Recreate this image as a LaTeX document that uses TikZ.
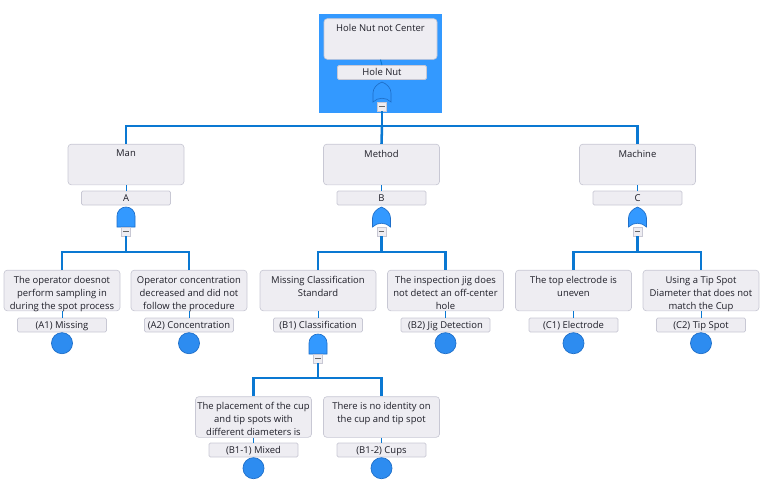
\documentclass[tikz,border=0pt]{standalone}
\usepackage{fontspec}
\setmainfont{Open Sans}
\definecolor{boxfill}{RGB}{238,237,242}
\definecolor{boxline}{RGB}{200,200,212}
\definecolor{conncol}{RGB}{10,120,210}
\definecolor{gatefill}{RGB}{51,153,255}
\definecolor{gateline}{RGB}{30,110,200}
\definecolor{circfill}{RGB}{45,140,240}
\definecolor{txt}{RGB}{30,30,40}
\begin{document}
\begin{tikzpicture}[x=0.75pt,y=-0.75pt,
  every node/.style={font=\fontsize{7.1}{9.75}\selectfont, text=txt},
  evbox/.style={draw=boxline, fill=boxfill, rounded corners=2.5pt, minimum width=87pt, minimum height=30.5pt, inner sep=0pt, line width=0.5pt},
  evlbl/.style={draw=boxline, fill=boxfill, rounded corners=1pt, minimum width=66.75pt, minimum height=10.5pt, inner sep=0pt, line width=0.5pt, text height=5.6pt, text depth=1pt},
  conn/.style={draw=conncol, line width=1.9pt},
  thin/.style={draw=conncol, line width=0.7pt},
  basic/.style={circle, draw=gateline, fill=circfill, minimum size=15.8pt, inner sep=0pt, line width=0.5pt},
  minusbox/.style={draw=boxline, fill=boxfill, minimum size=6.5pt, inner sep=0pt, line width=0.4pt,
     path picture={\draw[black!60, line width=0.6pt] ([xshift=-2pt]path picture bounding box.center) -- ([xshift=2pt]path picture bounding box.center);}},
  andgate/.pic={
    \path[fill=gatefill, draw=gateline, line width=0.5pt] (-9,20) -- (-9,9) .. controls (-9,4) and (-5,0) .. (0,0) .. controls (5,0) and (9,4) .. (9,9) -- (9,20) -- cycle;
    \node[minusbox] (-m) at (0,24.5) {};
  },
  orgate/.pic={
    \path[fill=gatefill, draw=gateline, line width=0.5pt] (0,0) .. controls (-5,2) and (-9,6) .. (-9,11) -- (-9,20) .. controls (-4,15) and (4,15) .. (9,20) -- (9,11) .. controls (9,6) and (5,2) .. (0,0) -- cycle;
    \node[minusbox] (-m) at (0,24.5) {};
  },
  intxt/.style={anchor=north, align=center, inner sep=0pt, yshift=-4.5pt}
]
\useasboundingbox (0,0) rectangle (769,489);
% top highlight
\fill[gatefill] (319,14) rectangle (442,113);

% top event
\node[evbox, minimum width=84.75pt, label={[intxt]north:Hole Nut not Center}] (top) at (380.5,39) {};
\node[evlbl] (topl) at (382,72.5) {Hole Nut};
\draw[thin] (top.south) -- (topl.north);
\pic (gT) at (382,82) {orgate};

% level 1
\node[evbox, label={[intxt]north:Man}] (man) at (126,164.5) {};
\node[evbox, label={[intxt]north:Method}] (method) at (381.5,164.5) {};
\node[evbox, label={[intxt]north:Machine}] (machine) at (637.5,164.5) {};
\node[evlbl] (manl) at (126,198) {A};
\node[evlbl] (methodl) at (381.5,198) {B};
\node[evlbl] (machinel) at (637.5,198) {C};
\draw[thin] (man.south) -- (manl.north);
\draw[thin] (method.south) -- (methodl.north);
\draw[thin] (machine.south) -- (machinel.north);
\pic (gA) at (126,207) {andgate};
\pic (gB) at (381.5,207) {orgate};
\pic (gC) at (637.5,207) {orgate};

\coordinate (jT) at (382,126);
\draw[conn] (gT-m.south) -- (jT) -| (man.north);
\draw[conn] (jT) -| (machine.north);
\draw[conn] (jT) -- (method.north);

% level 2
\node[evbox, label={[intxt]north:The operator doesnot\\perform sampling in\\during the spot process}] (a1) at (62,290.5) {};
\node[evbox, label={[intxt]north:Operator concentration\\decreased and did not\\follow the procedure}] (a2) at (189,290.5) {};
\node[evbox, label={[intxt]north:Missing Classification\\Standard}] (b1) at (318,290.5) {};
\node[evbox, label={[intxt]north:The inspection jig does\\not detect an off-center\\hole}] (b2) at (445.5,290.5) {};
\node[evbox, label={[intxt]north:The top electrode is\\uneven}] (c1) at (573.5,290.5) {};
\node[evbox, label={[intxt]north:Using a Tip Spot\\Diameter that does not\\match the Cup}] (c2) at (701,290.5) {};

\node[evlbl] (a1l) at (62,325) {(A1) Missing};
\node[evlbl] (a2l) at (189,325) {(A2) Concentration};
\node[evlbl] (b1l) at (318,325) {(B1) Classification};
\node[evlbl] (b2l) at (445.5,325) {(B2) Jig Detection};
\node[evlbl] (c1l) at (573.5,325) {(C1) Electrode};
\node[evlbl] (c2l) at (701,325) {(C2) Tip Spot};
\foreach \n in {a1,a2,b1,b2,c1,c2} {\draw[thin] (\n.south) -- (\n l.north);}

\node[basic, anchor=north] (a1c) at (a1l.south) {};
\node[basic, anchor=north] (a2c) at (a2l.south) {};
\node[basic, anchor=north] (b2c) at (b2l.south) {};
\node[basic, anchor=north] (c1c) at (c1l.south) {};
\node[basic, anchor=north] (c2c) at (c2l.south) {};
\pic (gB1) at (318,334) {andgate};

\coordinate (jA) at (126,252);
\coordinate (jB) at (381.5,252);
\coordinate (jC) at (637.5,252);
\draw[conn] (gA-m.south) -- (jA) -| (a1.north);
\draw[conn] (jA) -| (a2.north);
\draw[conn] (gB-m.south) -- (jB) -| (b1.north);
\draw[conn] (jB) -| (b2.north);
\draw[conn] (gC-m.south) -- (jC) -| (c1.north);
\draw[conn] (jC) -| (c2.north);

% level 3
\node[evbox, label={[intxt]north:The placement of the cup\\and tip spots with\\different diameters is}] (b11) at (253.5,417) {};
\node[evbox, label={[intxt]north:There is no identity on\\the cup and tip spot}] (b12) at (381.5,417) {};
\node[evlbl] (b11l) at (253.5,450) {(B1-1) Mixed};
\node[evlbl] (b12l) at (381.5,450) {(B1-2) Cups};
\draw[thin] (b11.south) -- (b11l.north);
\draw[thin] (b12.south) -- (b12l.north);
\node[basic, anchor=north] (b11c) at (b11l.south) {};
\node[basic, anchor=north] (b12c) at (b12l.south) {};
\coordinate (jB1) at (318,378);
\draw[conn] (gB1-m.south) -- (jB1) -| (b11.north);
\draw[conn] (jB1) -| (b12.north);
\end{tikzpicture}
\end{document}
